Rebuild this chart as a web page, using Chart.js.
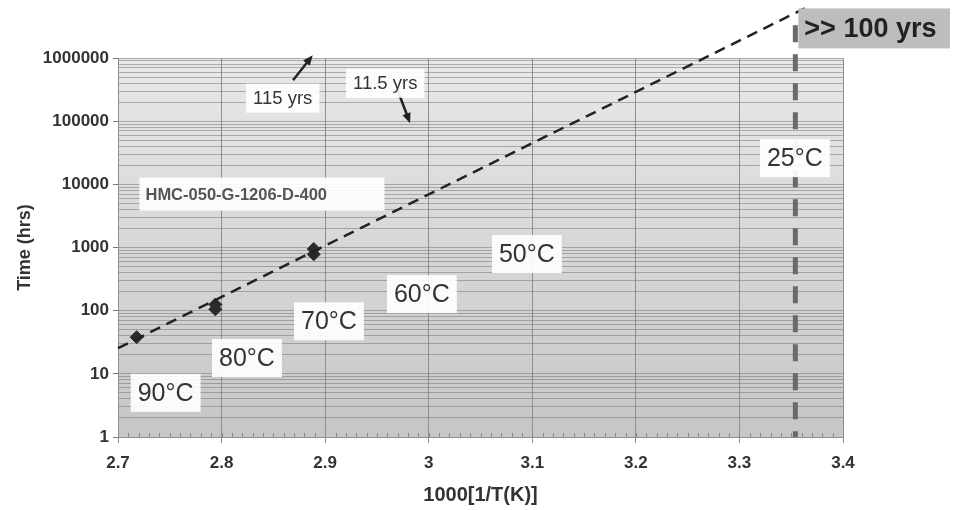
<!DOCTYPE html>
<html>
<head>
<meta charset="utf-8">
<script src="https://cdn.jsdelivr.net/npm/chart.js@4"></script>
<style>
  html, body { margin: 0; padding: 0; background: #fff; }
  canvas { display: block; }
</style>
</head>
<body>
<canvas id="myChart" width="956" height="510"></canvas>
<script>
// measured points (1000/T vs hours to failure)
var invTemp = [2.718, 2.794, 2.794, 2.889, 2.889];
var hours = [38, 105, 125, 780, 950];

// extrapolated fit, runs past the top of the plot
var fitInvTemp = [2.7, 3.363];
var fitHours = [25.5, 6100000];

// 25 C marker line
var roomInvTemp = 3.354;
var roomHours = [3300000, 1];

var xTicks = [2.7, 2.8, 2.9, 3.0, 3.1, 3.2, 3.3, 3.4];
var yDecades = [1, 10, 100, 1000, 10000, 100000, 1000000];

// text boxes, placed in data space
var notes = [
  {text: '90°C', x: 2.746, y: 5},
  {text: '80°C', x: 2.8245, y: 17.8},
  {text: '70°C', x: 2.9037, y: 68},
  {text: '60°C', x: 2.9934, y: 183},
  {text: '50°C', x: 3.0948, y: 787},
  {text: '25°C', x: 3.3535, y: 26000},
  {text: 'HMC-050-G-1206-D-400', x: 2.839, y: 7000, small: true, boxWidth: 245},
  {text: '115 yrs', x: 2.859, y: 231000, yrs: true},
  {text: '11.5 yrs', x: 2.958, y: 399000, yrs: true}
];
var arrows = [
  {from: [2.869, 446000], to: [2.888, 1107000]},
  {from: [2.970, 309000], to: [2.982, 93000]}
];

var FONT = '"Liberation Sans", Arial, sans-serif';

function isDecade(v) {
  var l = Math.log10(v);
  return Math.abs(l - Math.round(l)) < 1e-9;
}

var decor = {
  id: 'decor',
  beforeDraw: function(chart) {
    var a = chart.chartArea, ctx = chart.ctx;
    var g = ctx.createLinearGradient(0, a.top, 0, a.bottom);
    g.addColorStop(0, '#e8e8e8');
    g.addColorStop(1, '#c4c6c8');
    ctx.save();
    ctx.fillStyle = g;
    ctx.fillRect(a.left, a.top, a.right - a.left, a.bottom - a.top);
    ctx.restore();
  },
  afterDatasetsDraw: function(chart) {
    var ctx = chart.ctx, xs = chart.scales.x, ys = chart.scales.y, a = chart.chartArea;
    ctx.save();

    // minor ticks along the bottom axis
    ctx.strokeStyle = '#8a8a8a';
    ctx.lineWidth = 1;
    for (var i = 0; i <= 70; i++) {
      var px = Math.round(xs.getPixelForValue(2.7 + i * 0.01)) + 0.5;
      ctx.beginPath();
      ctx.moveTo(px, a.bottom);
      ctx.lineTo(px, a.bottom - 4);
      ctx.stroke();
    }

    // arrows
    ctx.strokeStyle = '#222';
    ctx.fillStyle = '#222';
    ctx.lineWidth = 2.5;
    arrows.forEach(function(ar) {
      var x1 = xs.getPixelForValue(ar.from[0]), y1 = ys.getPixelForValue(ar.from[1]);
      var x2 = xs.getPixelForValue(ar.to[0]), y2 = ys.getPixelForValue(ar.to[1]);
      var ang = Math.atan2(y2 - y1, x2 - x1);
      ctx.beginPath();
      ctx.moveTo(x1, y1);
      ctx.lineTo(x2 - 6 * Math.cos(ang), y2 - 6 * Math.sin(ang));
      ctx.stroke();
      ctx.beginPath();
      ctx.moveTo(x2, y2);
      ctx.lineTo(x2 - 11 * Math.cos(ang - 0.4), y2 - 11 * Math.sin(ang - 0.4));
      ctx.lineTo(x2 - 11 * Math.cos(ang + 0.4), y2 - 11 * Math.sin(ang + 0.4));
      ctx.closePath();
      ctx.fill();
    });

    // labelled boxes
    notes.forEach(function(n) {
      var cx = xs.getPixelForValue(n.x), cy = ys.getPixelForValue(n.y);
      var font, h, color;
      if (n.small) { font = 'bold 16.5px ' + FONT; h = 33; color = '#555'; }
      else if (n.yrs) { font = '18.5px ' + FONT; h = 29; color = '#333'; }
      else { font = '25px ' + FONT; h = 38; color = '#333'; }
      ctx.font = font;
      var tw = ctx.measureText(n.text).width;
      var w = n.boxWidth || tw + 14;
      ctx.fillStyle = 'rgba(255,255,255,0.92)';
      ctx.fillRect(cx - w / 2, cy - h / 2, w, h);
      ctx.fillStyle = color;
      ctx.textBaseline = 'middle';
      if (n.boxWidth) {
        ctx.textAlign = 'left';
        ctx.fillText(n.text, cx - w / 2 + 6, cy + 1);
      } else {
        ctx.textAlign = 'center';
        ctx.fillText(n.text, cx, cy + 1);
      }
    });

    // ">> 100 yrs" tag at the end of the fit line
    var bx = xs.getPixelForValue(roomInvTemp) + 3;
    var by = ys.getPixelForValue(fitHours[1]);
    ctx.fillStyle = '#bdbdbd';
    ctx.fillRect(bx, by, chart.width - 6 - bx, 40);
    ctx.fillStyle = '#222';
    ctx.font = 'bold 27px ' + FONT;
    ctx.textAlign = 'left';
    ctx.textBaseline = 'middle';
    ctx.fillText('>> 100 yrs', bx + 6, by + 21);

    ctx.restore();
  }
};

var ctx = document.getElementById('myChart');
var chart = new Chart(ctx, {
  type: 'scatter',
  data: {
    datasets: [
      {
        label: 'fit',
        data: fitInvTemp.map(function(v, i) { return {x: v, y: fitHours[i]}; }),
        showLine: true,
        borderColor: '#222',
        borderWidth: 2.5,
        borderDash: [11, 7],
        pointRadius: 0,
        clip: false
      },
      {
        label: '25C',
        data: roomHours.map(function(v) { return {x: roomInvTemp, y: v}; }),
        showLine: true,
        borderColor: '#6a6a6a',
        borderWidth: 5,
        borderDash: [17, 12],
        pointRadius: 0,
        clip: false
      },
      {
        label: 'measured',
        data: invTemp.map(function(v, i) { return {x: v, y: hours[i]}; }),
        pointStyle: 'rectRot',
        pointRadius: 6.5,
        backgroundColor: '#2a2a2a',
        borderColor: '#2a2a2a'
      }
    ]
  },
  options: {
    responsive: false,
    animation: false,
    layout: { padding: { top: 58, right: 113, left: 0, bottom: 0 } },
    plugins: { legend: { display: false }, tooltip: { enabled: false } },
    scales: {
      x: {
        type: 'linear',
        min: 2.7,
        max: 3.4,
        afterBuildTicks: function(s) { s.ticks = xTicks.map(function(v) { return {value: v}; }); },
        afterFit: function(s) { s.height = 73; },
        grid: { color: '#8f8f8f', tickLength: 6, tickColor: '#8f8f8f' },
        border: { color: '#8f8f8f' },
        ticks: {
          autoSkip: false,
          maxRotation: 0,
          padding: 10,
          color: '#333',
          font: { family: FONT, size: 17, weight: 'bold' },
          callback: function(v) { return String(Number(v.toFixed(1))); }
        },
        title: {
          display: true,
          text: '1000[1/T(K)]',
          color: '#333',
          padding: { top: 0, bottom: 3 },
          font: { family: FONT, size: 20, weight: 'bold' }
        }
      },
      y: {
        type: 'logarithmic',
        min: 1,
        max: 1000000,
        afterBuildTicks: function(s) {
          var t = [];
          yDecades.forEach(function(d, i) {
            if (i === yDecades.length - 1) { t.push({value: d}); return; }
            for (var k = 1; k <= 9; k++) t.push({value: d * k});
          });
          s.ticks = t;
        },
        afterFit: function(s) { s.width = 118; },
        grid: {
          color: 'rgba(120,120,120,0.55)',
          tickLength: 5,
          tickColor: function(c) { return c.tick && isDecade(c.tick.value) ? '#777' : 'rgba(0,0,0,0)'; }
        },
        border: { color: '#8f8f8f' },
        ticks: {
          autoSkip: false,
          padding: 4,
          color: '#333',
          font: { family: FONT, size: 17, weight: 'bold' },
          callback: function(v) { return isDecade(v) ? String(Math.round(v)) : ''; }
        },
        title: {
          display: true,
          text: 'Time (hrs)',
          color: '#333',
          padding: { top: 14, bottom: 0 },
          font: { family: FONT, size: 18, weight: 'bold' }
        }
      }
    }
  },
  plugins: [decor]
});
</script>
</body>
</html>
